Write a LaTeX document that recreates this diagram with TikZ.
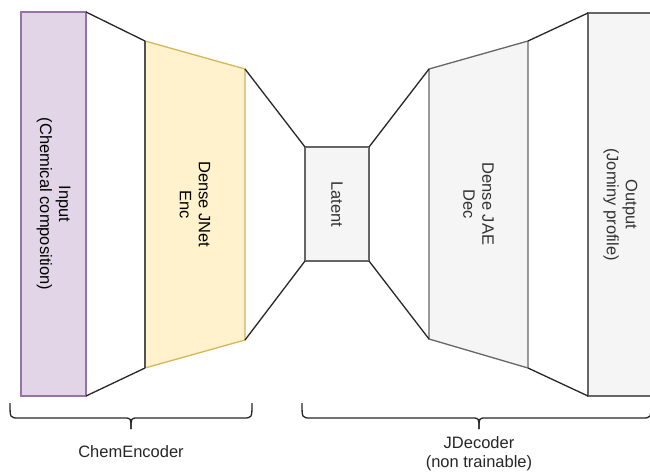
\documentclass[tikz,border=0pt]{standalone}
\usepackage{fontspec}
\setmainfont{Liberation Sans}
\definecolor{purpleFill}{HTML}{E1D5E7}
\definecolor{purpleLine}{HTML}{9673A6}
\definecolor{yellowFill}{HTML}{FFF2CC}
\definecolor{yellowLine}{HTML}{D6B656}
\definecolor{grayFill}{HTML}{F5F5F5}
\definecolor{grayLine}{HTML}{666666}
\definecolor{grayText}{HTML}{333333}
\begin{document}
\begin{tikzpicture}[x=1pt,y=-1pt,
  every node/.style={font=\fontsize{16.5}{19}\selectfont, inner sep=0pt, outer sep=0pt},
  inbox/.style={draw=purpleLine, fill=purpleFill, line width=1.3pt},
  encbox/.style={draw=yellowLine, fill=yellowFill, line width=1.3pt},
  graybox/.style={draw=grayLine, fill=grayFill, line width=1.3pt},
  rotlabel/.style={rotate=-90, align=center},
  link/.style={draw=black!85, line width=1.3pt},
  bracepath/.style={draw=black!85, line width=1.3pt},
  bracetext/.style={align=center, text=black!85}
]
\useasboundingbox (0,0) rectangle (650,474);
\clip (0,0) rectangle (650,474);

% corner points of the layers
\coordinate (inTR) at (86,12);   \coordinate (inBR) at (86,396);
\coordinate (encTL) at (145,41); \coordinate (encBL) at (145,368);
\coordinate (encTR) at (245,69); \coordinate (encBR) at (245,340);
\coordinate (latTL) at (305,147); \coordinate (latBL) at (305,261);
\coordinate (latTR) at (369,147); \coordinate (latBR) at (369,261);
\coordinate (decTL) at (429,69); \coordinate (decBL) at (429,339);
\coordinate (decTR) at (528,41); \coordinate (decBR) at (528,368);
\coordinate (outTL) at (588,13); \coordinate (outBL) at (588,396);

% input layer
\node[inbox, minimum width=65pt, minimum height=384pt] (input) at (53.5,204) {};
\node[rotlabel] (inputlbl) at (input.center) {Input\\(Chemical composition)};

% encoder layer
\path[encbox] (encTL) -- (encTR) -- (encBR) -- (encBL) -- cycle;
\draw[draw=grayLine!80!black, line width=1.3pt] (encTL) -- (encBL);
\node[rotlabel] (enc) at (195,204.5) {Dense JNet\\Enc};

% latent layer
\node[graybox, minimum width=64pt, minimum height=114pt] (latent) at (337,204) {};
\node[rotlabel, text=grayText] (latentlbl) at (latent.center) {Latent};

% decoder layer
\path[graybox] (decTL) -- (decTR) -- (decBR) -- (decBL) -- cycle;
\node[rotlabel, text=grayText] (dec) at (478.5,204) {Dense JAE\\Dec};

% output layer
\node[graybox, minimum width=65pt, minimum height=383pt] (output) at (620.5,204.5) {};
\node[rotlabel, text=grayText] (outputlbl) at (output.center) {Output\\(Jominy profile)};

% funnel edges between layers
\draw[link] (inTR) -- (encTL);
\draw[link] (inBR) -- (encBL);
\draw[link] (encTR) -- (latTL);
\draw[link] (encBR) -- (latBL);
\draw[link] (latTR) -- (decTL);
\draw[link] (latBR) -- (decBL);
\draw[link] (decTR) -- (outTL);
\draw[link] (decBR) -- (outBL);

% brace under the encoder part
\coordinate (lbA) at (10,403);  \coordinate (lbB) at (252,403);
\coordinate (lbTip) at (131,429);
\draw[bracepath] (lbA) .. controls (10,418) .. (19,418) -- (124,418)
  .. controls (131,418) .. (lbTip);
\draw[bracepath] (lbB) .. controls (252,418) .. (243,418) -- (138,418)
  .. controls (131,418) .. (lbTip);
\node[bracetext] (chemenc) at (131,452) {ChemEncoder};

% brace under the decoder part
\coordinate (rbA) at (302,403); \coordinate (rbB) at (651,403);
\coordinate (rbTip) at (479,429);
\draw[bracepath] (rbA) .. controls (302,418) .. (311,418) -- (472,418)
  .. controls (479,418) .. (rbTip);
\draw[bracepath] (rbB) .. controls (651,418) .. (642,418) -- (486,418)
  .. controls (479,418) .. (rbTip);
\node[bracetext] (jdec) at (479,453.5) {JDecoder\\(non trainable)};
\end{tikzpicture}
\end{document}
